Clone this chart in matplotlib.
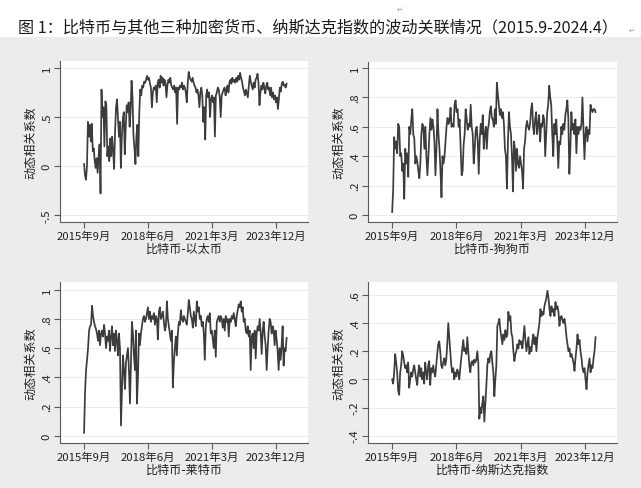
"""
Bitcoin dynamic correlation panels
- four Stata-style line panels in a 2x2 grid
"""

import numpy as np
import pandas as pd
import matplotlib

matplotlib.use("Agg")
import matplotlib.pyplot as plt
from matplotlib.patches import Rectangle

plt.rcParams["font.family"] = ["Noto Sans CJK SC", "DejaVu Sans"]

title = "图 1：比特币与其他三种加密货币、纳斯达克指数的波动关联情况（2015.9-2024.4）"
y_label = "动态相关系数"
pair_names = ["比特币-以太币", "比特币-狗狗币", "比特币-莱特币", "比特币-纳斯达克指数"]

start_date = "2015-09-01"
end_date = "2024-05-10"

x_tick_dates = ["2015-09-01", "2018-06-01", "2021-03-01", "2023-12-01"]
x_tick_labels = ["2015年9月", "2018年6月", "2021年3月", "2023年12月"]

# roughly two points per month
btc_eth = [
    0.02, -0.1, -0.14, 0.0, 0.45, 0.3, 0.42, 0.25, 0.43, 0.15, 0.18, 0.05,
    -0.02, 0.08, -0.07, 0.1, 0.22, -0.28, 0.78, 0.5, 0.6, 0.2, 0.66, 0.62,
    0.1, 0.2, 0.05, 0.28, 0.1, 0.3, 0.15, -0.03, 0.35, 0.6, 0.68, 0.5,
    0.3, 0.45, -0.02, 0.3, 0.48, 0.55, 0.12, 0.4, 0.62, 0.55, 0.65, 0.4,
    0.55, 0.87, 0.7, 0.3, 0.18, 0.02, 0.3, 0.42, 0.1, 0.55, 0.78, 0.72,
    0.82, 0.8, 0.86, 0.85, 0.88, 0.92, 0.88, 0.9, 0.84, 0.8, 0.6, 0.75,
    0.8, 0.78, 0.82, 0.65, 0.85, 0.88, 0.8, 0.92, 0.85, 0.9, 0.82, 0.88,
    0.85, 0.7, 0.82, 0.88, 0.85, 0.9, 0.82, 0.8, 0.78, 0.82, 0.75, 0.8,
    0.43, 0.8, 0.78, 0.82, 0.8, 0.85, 0.78, 0.82, 0.8, 0.75, 0.65, 0.85,
    0.96, 0.9, 0.88, 0.86, 0.9, 0.85, 0.82, 0.8, 0.75, 0.78, 0.72, 0.6,
    0.75, 0.8, 0.72, 0.45, 0.6, 0.27, 0.72, 0.78, 0.7, 0.75, 0.5, 0.68,
    0.72, 0.65, 0.7, 0.3, 0.72, 0.75, 0.8, 0.78, 0.7, 0.5, 0.72, 0.75,
    0.78, 0.8, 0.72, 0.78, 0.82, 0.75, 0.85, 0.88, 0.84, 0.9, 0.86, 0.88,
    0.85, 0.9, 0.86, 0.92, 0.88, 0.95, 0.9, 0.86, 0.8, 0.76, 0.72, 0.78,
    0.74, 0.7, 0.82, 0.92, 0.86, 0.82, 0.78, 0.85, 0.8, 0.88, 0.9, 0.94,
    0.85, 0.62, 0.75, 0.82, 0.78, 0.85, 0.8, 0.74, 0.82, 0.85, 0.78, 0.8,
    0.72, 0.8, 0.7, 0.75, 0.68, 0.72, 0.65, 0.7, 0.58, 0.68, 0.8, 0.76,
    0.84, 0.86, 0.82, 0.83, 0.8, 0.84,
]

btc_doge = [
    0.02, 0.17, 0.53, 0.45, 0.5, 0.42, 0.62, 0.6, 0.4, 0.42, 0.3, 0.35,
    0.11, 0.45, 0.35, 0.42, 0.26, 0.6, 0.55, 0.65, 0.72, 0.55, 0.52, 0.35,
    0.4, 0.36, 0.3, 0.25, 0.35, 0.55, 0.62, 0.6, 0.45, 0.6, 0.4, 0.27,
    0.4, 0.55, 0.66, 0.58, 0.65, 0.6, 0.5, 0.27, 0.45, 0.72, 0.55, 0.45,
    0.3, 0.12, 0.4, 0.35, 0.4, 0.5, 0.6, 0.66, 0.62, 0.64, 0.73, 0.6,
    0.62, 0.6, 0.75, 0.78, 0.7, 0.72, 0.6, 0.65, 0.45, 0.27, 0.3, 0.48,
    0.55, 0.72, 0.66, 0.58, 0.62, 0.6, 0.75, 0.6, 0.55, 0.35, 0.45, 0.58,
    0.6, 0.5, 0.28, 0.52, 0.62, 0.55, 0.68, 0.45, 0.55, 0.6, 0.45, 0.58,
    0.62, 0.7, 0.74, 0.66, 0.65, 0.6, 0.72, 0.62, 0.9, 0.82, 0.75, 0.68,
    0.72, 0.66, 0.7, 0.62, 0.45, 0.4, 0.18, 0.5, 0.7, 0.6, 0.55, 0.4,
    0.16, 0.5, 0.45, 0.3, 0.45, 0.35, 0.32, 0.4, 0.35, 0.3, 0.18, 0.45,
    0.5, 0.6, 0.64, 0.6, 0.58, 0.62, 0.72, 0.76, 0.6, 0.55, 0.65, 0.7,
    0.55, 0.62, 0.68, 0.5, 0.62, 0.6, 0.68, 0.65, 0.4, 0.55, 0.7, 0.75,
    0.88, 0.8, 0.75, 0.55, 0.4, 0.62, 0.55, 0.65, 0.5, 0.32, 0.5, 0.48,
    0.6, 0.55, 0.62, 0.58, 0.68, 0.72, 0.78, 0.65, 0.28, 0.45, 0.7, 0.58,
    0.62, 0.55, 0.65, 0.42, 0.6, 0.55, 0.6, 0.58, 0.62, 0.8, 0.6, 0.38,
    0.55, 0.6, 0.5, 0.58, 0.55, 0.75, 0.72, 0.7, 0.72, 0.72, 0.7,
]

btc_ltc = [
    0.02, 0.3, 0.45, 0.52, 0.6, 0.72, 0.75, 0.76, 0.89, 0.82, 0.78, 0.75,
    0.73, 0.7, 0.65, 0.72, 0.62, 0.7, 0.72, 0.68, 0.76, 0.7, 0.6, 0.68,
    0.65, 0.72, 0.58, 0.68, 0.75, 0.62, 0.7, 0.58, 0.72, 0.65, 0.55, 0.7,
    0.6, 0.07, 0.3, 0.55, 0.45, 0.32, 0.5, 0.55, 0.6, 0.45, 0.22, 0.5,
    0.78, 0.7, 0.55, 0.45, 0.72, 0.22, 0.4, 0.7, 0.62, 0.7, 0.75, 0.8,
    0.82, 0.78, 0.8, 0.84, 0.88, 0.8, 0.85, 0.78, 0.82, 0.8, 0.84, 0.76,
    0.82, 0.8, 0.66, 0.85, 0.88, 0.8, 0.82, 0.85, 0.78, 0.72, 0.75, 0.92,
    0.8, 0.75, 0.7, 0.65, 0.72, 0.33, 0.5, 0.6, 0.68, 0.55, 0.7, 0.78,
    0.76, 0.86, 0.8, 0.78, 0.82, 0.8, 0.78, 0.76, 0.84, 0.93, 0.88, 0.82,
    0.8, 0.74, 0.85, 0.8, 0.75, 0.92, 0.85, 0.88, 0.8, 0.82, 0.75, 0.78,
    0.7, 0.52, 0.75, 0.8, 0.82, 0.78, 0.84, 0.7, 0.72, 0.66, 0.6, 0.72,
    0.54, 0.78, 0.8, 0.82, 0.78, 0.82, 0.8, 0.74, 0.8, 0.72, 0.82, 0.78,
    0.8, 0.68, 0.8, 0.78, 0.82, 0.8, 0.84, 0.8, 0.75, 0.82, 0.86, 0.9,
    0.88, 0.92, 0.85, 0.88, 0.78, 0.8, 0.72, 0.7, 0.75, 0.68, 0.72, 0.45,
    0.68, 0.7, 0.6, 0.72, 0.53, 0.7, 0.75, 0.72, 0.8, 0.7, 0.56, 0.72,
    0.78, 0.68, 0.62, 0.45, 0.6, 0.72, 0.8, 0.78, 0.7, 0.75, 0.72, 0.62,
    0.72, 0.66, 0.58, 0.45, 0.6, 0.52, 0.62, 0.75, 0.48, 0.6, 0.58, 0.67,
]

btc_nasdaq = [
    0.0, -0.03, 0.05, 0.18, 0.12, 0.05, -0.08, -0.11, 0.05, 0.1, 0.2, 0.17,
    0.12, 0.08, 0.1, 0.05, 0.12, -0.06, 0.0, 0.05, 0.02, 0.07, 0.1, 0.05,
    0.0, -0.04, 0.05, 0.1, 0.02, 0.08, 0.0, 0.05, -0.03, 0.12, 0.05, 0.0,
    0.1, 0.13, -0.04, 0.08, 0.05, 0.1, 0.05, 0.02, 0.1, 0.18, 0.25, 0.27,
    0.2, 0.1, 0.08, 0.12, 0.15, 0.1, 0.14, 0.25, 0.4, 0.3, 0.2, 0.1,
    0.05, 0.08, 0.0, 0.05, 0.02, 0.07, 0.05, 0.0, 0.08, 0.15, 0.22, 0.28,
    0.2, 0.22, 0.18, 0.3, 0.2, 0.1, 0.05, 0.12, 0.13, 0.1, 0.14, 0.12,
    0.14, 0.2, 0.12, -0.28, -0.2, -0.24, -0.17, -0.12, -0.3, -0.18, -0.05, 0.1,
    0.15, 0.12, 0.18, 0.2, 0.12, 0.05, -0.12, 0.0, 0.1, 0.38, 0.4, 0.43,
    0.35, 0.3, 0.25, 0.32, 0.28, 0.35, 0.3, 0.32, 0.48, 0.42, 0.45, 0.33,
    0.3, 0.2, 0.13, 0.18, 0.2, 0.25, 0.22, 0.28, 0.25, 0.27, 0.22, 0.3,
    0.38, 0.28, 0.2, 0.25, 0.3, 0.18, 0.23, 0.2, 0.28, 0.32, 0.25, 0.3,
    0.2, 0.3, 0.35, 0.4, 0.5, 0.45, 0.48, 0.46, 0.52, 0.55, 0.58, 0.63,
    0.58, 0.5, 0.45, 0.52, 0.48, 0.5, 0.45, 0.55, 0.5, 0.52, 0.48, 0.38,
    0.44, 0.45, 0.42, 0.4, 0.43, 0.38, 0.3, 0.25, 0.2, 0.22, 0.16, 0.18,
    0.15, 0.12, 0.06, 0.15, 0.22, 0.32, 0.25, 0.28, 0.2, 0.15, 0.08, 0.05,
    0.08, 0.0, -0.07, 0.05, 0.1, 0.15, 0.05, 0.1, 0.08, 0.15, 0.2, 0.3,
]

series_list = [btc_eth, btc_doge, btc_ltc, btc_nasdaq]

y_ticks = [
    [-0.5, 0, 0.5, 1],
    [0, 0.2, 0.4, 0.6, 0.8, 1],
    [0, 0.2, 0.4, 0.6, 0.8, 1],
    [-0.4, -0.2, 0, 0.2, 0.4, 0.6],
]
y_tick_labels = [
    ["-.5", "0", ".5", "1"],
    ["0", ".2", ".4", ".6", ".8", "1"],
    ["0", ".2", ".4", ".6", ".8", "1"],
    ["-.4", "-.2", "0", ".2", ".4", ".6"],
]
y_limits = [(-0.571, 1.071), (-0.048, 1.041), (-0.05, 1.053), (-0.452, 0.692)]

LINE_COLOR = "#3c3c3c"
AXIS_COLOR = "#5a5a5a"
OUTER_BG = "#ececec"
TEXT_COLOR = "#222222"

W, H = 641, 489


def px_rect(left, top, right, bottom):
    """pixel box -> figure fraction rect"""
    return [left / W, 1 - bottom / H, (right - left) / W, (bottom - top) / H]


def style_panel(ax, idx):
    """Stata-like look for one panel"""
    ax.set_facecolor("white")
    for side in ["top", "right"]:
        ax.spines[side].set_visible(False)
    for side in ["left", "bottom"]:
        ax.spines[side].set_color(AXIS_COLOR)
        ax.spines[side].set_linewidth(0.8)

    ax.set_xlim(pd.Timestamp("2014-08-20"), pd.Timestamp("2025-04-10"))
    ax.set_xticks(pd.to_datetime(x_tick_dates))
    ax.set_xticklabels(x_tick_labels)

    ax.set_ylim(*y_limits[idx])
    ax.set_yticks(y_ticks[idx])
    ax.set_yticklabels(y_tick_labels[idx], rotation=90, va="center")

    ax.tick_params(direction="out", length=4, width=0.8, color=AXIS_COLOR,
                   labelsize=8.2, labelcolor=TEXT_COLOR, pad=2)
    ax.yaxis.grid(True, color="#ececec", linewidth=0.7)
    ax.set_axisbelow(True)

    ax.set_xlabel(pair_names[idx], fontsize=8.7, color=TEXT_COLOR, labelpad=0.5)
    ax.set_ylabel(y_label, fontsize=8.7, color=TEXT_COLOR, labelpad=3.5)


fig = plt.figure(figsize=(W / 100, H / 100), dpi=100, facecolor=OUTER_BG)

# white strip behind the caption
fig.patches.append(Rectangle((0, 1 - 38 / H), 1, 38 / H, transform=fig.transFigure,
                             facecolor="white", edgecolor="none", zorder=0))

fig.text(318 / W, 1 - 28 / H, title, ha="center", va="center",
         fontsize=11.6, color="#1a1a1a")
fig.text(400 / W, 1 - 10 / H, "↵", ha="center", va="center", fontsize=5, color="#999999")
fig.text(632 / W, 1 - 31 / H, "↵", ha="center", va="center", fontsize=5, color="#999999")

boxes = [
    px_rect(60, 62, 308, 223),
    px_rect(368, 63, 617, 223),
    px_rect(60, 283, 308, 444),
    px_rect(368, 283, 617, 444),
]

for i, vals in enumerate(series_list):
    ax = fig.add_axes(boxes[i])
    dates = pd.date_range(start_date, end_date, periods=len(vals))
    ax.plot(dates, vals, color=LINE_COLOR, linewidth=1.25)
    style_panel(ax, i)

fig.savefig("out.png", dpi=100, facecolor=OUTER_BG)
